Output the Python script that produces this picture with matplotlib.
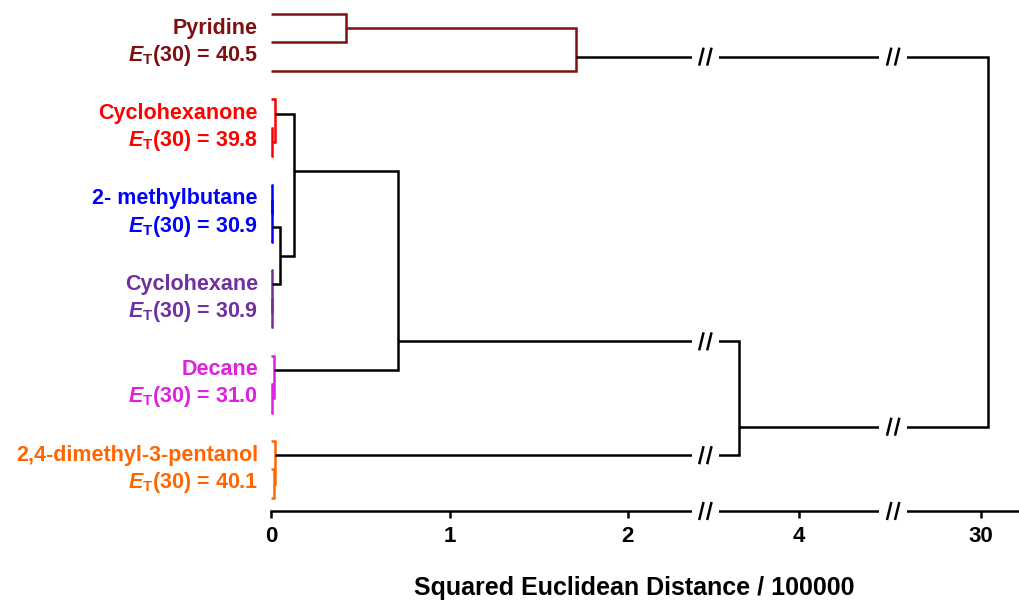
import numpy as np
import matplotlib
matplotlib.use("Agg")
import matplotlib.pyplot as plt
from matplotlib import font_manager
from matplotlib.transforms import ScaledTranslation

# ---------------- data ----------------
solvents = ["Pyridine", "Cyclohexanone", "2- methylbutane", "Cyclohexane",
            "Decane", "2,4-dimethyl-3-pentanol"]
et30 = ["40.5", "39.8", "30.9", "30.9", "31.0", "40.1"]
group_colors = ["#7f1010", "#ff0000", "#0000ff", "#7030a0", "#e020e0", "#ff6600"]
n_rep = 3  # replicate leaves per solvent

# linkage rows (left child, right child, distance / 100000); leaves 0..17, nodes 18..
link_left = [0, 18, 4, 3, 6, 22, 10, 9, 23, 21, 13, 12, 27, 16, 15, 30, 19]
link_right = [1, 2, 5, 20, 7, 8, 11, 24, 25, 26, 14, 28, 29, 17, 31, 32, 33]
link_height = [0.416, 1.713, 0.004, 0.018, 0.002, 0.004, 0.002, 0.004, 0.045,
               0.129, 0.004, 0.016, 0.713, 0.016, 0.019, 3.661, 30.04]

tick_values = [0, 1, 2, 4, 30]
tick_labels = ["0", "1", "2", "4", "30"]

# broken axis: kept segments of the distance axis
seg_data = [-10.0, 0.0, 2.36, 3.55, 4.45, 29.585, 31.0, 100.0]
seg_unit = [-10.0, 0.0, 2.36, 2.515, 3.415, 3.57, 4.985, 73.985]
gaps = [(2.36, 3.55), (4.45, 29.585)]

# ---------------- fonts ----------------
avail = {f.name for f in font_manager.fontManager.ttflist}
narrow = "Liberation Sans Narrow" if "Liberation Sans Narrow" in avail else "Liberation Sans"
plt.rcParams["font.family"] = ["Liberation Sans", "DejaVu Sans"]
plt.rcParams["mathtext.fontset"] = "custom"
plt.rcParams["mathtext.rm"] = "Liberation Sans"
plt.rcParams["mathtext.bf"] = "Liberation Sans:bold"
plt.rcParams["mathtext.it"] = "Liberation Sans:italic"
plt.rcParams["mathtext.bfit"] = "Liberation Sans:italic:bold"

fig = plt.figure(figsize=(10.2, 6.01), dpi=100)
W, H = 1020, 601
ax = fig.add_axes([271.5 / W, 90 / H, 748.5 / W, 511 / H])

fwd = lambda d: np.interp(d, seg_data, seg_unit)
inv = lambda u: np.interp(u, seg_unit, seg_data)
ax.set_xscale("function", functions=(fwd, inv))
ax.set_xlim(0, inv(4.205))
ax.set_ylim(17.46, -0.49)

n_leaves = len(solvents) * n_rep
LW = 1.8

# node bookkeeping
ypos = {i: float(i) for i in range(n_leaves)}
hgt = {i: 0.0 for i in range(n_leaves)}
leaves = {i: [i] for i in range(n_leaves)}
hsegs = []
for k, (l, r, h) in enumerate(zip(link_left, link_right, link_height)):
    node = n_leaves + k
    leaves[node] = leaves[l] + leaves[r]
    ypos[node] = max(leaves[l]) + 0.5
    hgt[node] = h
    groups = {lf // n_rep for lf in leaves[node]}
    col = group_colors[groups.pop()] if len(groups) == 1 else "black"
    xs = [hgt[l], h, h, hgt[r]]
    ys = [ypos[l], ypos[l], ypos[r], ypos[r]]
    ax.plot(xs, ys, color=col, lw=LW, clip_on=False, solid_joinstyle="miter",
            solid_capstyle="butt", zorder=3)
    hsegs.append((ypos[l], hgt[l], h))
    hsegs.append((ypos[r], hgt[r], h))

# labels
for g, (name, et, col) in enumerate(zip(solvents, et30, group_colors)):
    yc = g * n_rep + (n_rep - 1) / 2
    ax.text(-0.076, yc - 0.5, name, color=col, fontsize=15.5, fontweight="bold",
            ha="right", va="center", clip_on=False)
    ax.text(-0.076, yc + 0.45, r"$\mathbfit{E}_{\mathbf{T}}$" + "(30) = " + et,
            color=col, fontsize=15.5, fontweight="bold", ha="right", va="center",
            clip_on=False)

# axes styling
for s in ["left", "right", "top"]:
    ax.spines[s].set_visible(False)
ax.spines["bottom"].set_linewidth(LW)
ax.set_yticks([])
ax.set_xticks(tick_values)
ax.set_xticklabels(tick_labels)
ax.tick_params(axis="x", direction="out", length=5, width=LW, pad=6, labelsize=16)
for t in ax.get_xticklabels():
    t.set_fontfamily(narrow)
    t.set_fontweight("bold")
ax.set_xlabel("Squared Euclidean Distance / 100000", fontsize=18, fontweight="bold",
              fontfamily=narrow)
ax.xaxis.set_label_coords((634 - 271.5) / 748.5, -0.151)
ax.xaxis.label.set_va("center")

# axis breaks
ybot = ax.get_ylim()[0]
for (g0, g1) in gaps:
    ax.axvspan(g0, g1, ymin=-0.02, ymax=1.0, color="white", lw=0, zorder=4,
               clip_on=False)
    uc = (fwd(g0) + fwd(g1)) / 2
    xc = inv(uc)
    ys = sorted({y for (y, a, b) in hsegs if a < g0 and b > g1} | {ybot})
    for y in ys:
        for off in (-4, 4):
            tr = fig.dpi_scale_trans + ScaledTranslation(xc, y, ax.transData)
            ax.plot([(off - 2.2) / 100, (off + 2.2) / 100], [-9 / 100, 9 / 100],
                    color="black", lw=LW, transform=tr, clip_on=False, zorder=5,
                    solid_capstyle="butt")

fig.savefig("out.png", dpi=100)
